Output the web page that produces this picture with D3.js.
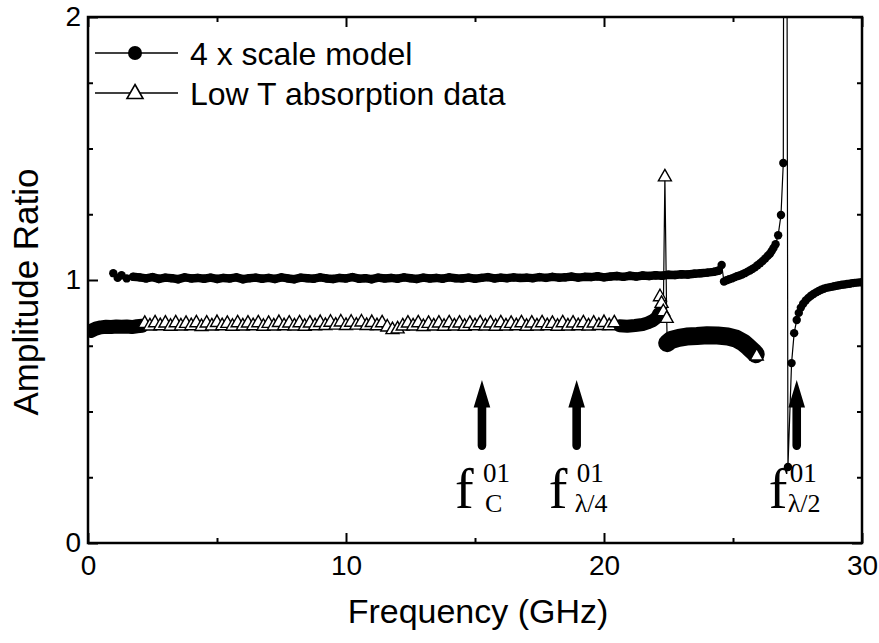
<!DOCTYPE html>
<html><head><meta charset="utf-8">
<script src="https://cdn.jsdelivr.net/npm/d3@7"></script>
<style>body{margin:0;background:#fff}</style>
</head><body><svg id="c" width="879" height="643"></svg>
<script>
// ---------- data ----------
const xMajorTicks = [0, 10, 20, 30];
const xMinorTicks = [5, 15, 25];
const yMajorTicks = [0, 1, 2];
const yMinorTicks = [0.25, 0.5, 0.75, 1.25, 1.5, 1.75];

const seriesNames = ["4 x scale model", "Low T absorption data"];

// 4 x scale model (filled circles)
const modelFreq = [0.98,1.15,1.3,1.5,1.75,
 2,2.25,2.5,2.75,3,3.25,3.5,3.75,4,4.25,
 4.5,4.75,5,5.25,5.5,5.75,6,6.25,6.5,6.75,
 7,7.25,7.5,7.75,8,8.25,8.5,8.75,9,9.25,
 9.5,9.75,10,10.25,10.5,10.75,11,11.25,11.5,11.75,
 12,12.25,12.5,12.75,13,13.25,13.5,13.75,14,14.25,
 14.5,14.75,15,15.25,15.5,15.75,16,16.25,16.5,16.75,
 17,17.25,17.5,17.75,18,18.25,18.5,18.75,19,19.25,
 19.5,19.75,20,20.25,20.5,20.75,21,21.25,21.5,21.75,
 22,22.25,22.5,22.75,23,23.25,23.5,23.75,24,24.25,
 24.45,24.56,
 24.65,24.75,24.85,24.95,25.05,25.15,25.25,25.35,25.45,25.55,25.65,25.75,25.85,25.95,26.05,26.15,26.25,26.35,26.43,26.5,26.57,26.65,26.75,26.86,26.95,
 27.02,27.13,27.27,27.37,
 27.47,27.55,27.63,27.72,27.82,27.92,28.02,28.12,28.22,28.32,28.42,28.52,28.62,28.72,28.82,28.92,29.02,29.12,29.22,29.32,29.42,29.52,29.62,29.72,29.82,29.92,30];
const modelAmp = [1.026,1.008,1.018,1.006,1.012,
 1.010,1.006,1.011,1.004,1.009,1.007,1.003,1.010,1.006,1.008,
 1.005,1.009,1.004,1.008,1.006,1.010,1.003,1.007,1.009,1.005,
 1.008,1.004,1.010,1.006,1.003,1.009,1.007,1.005,1.010,1.006,
 1.004,1.008,1.006,1.011,1.005,1.007,1.003,1.009,1.006,1.008,
 1.005,1.010,1.007,1.004,1.009,1.006,1.008,1.005,1.010,1.007,
 1.006,1.009,1.005,1.008,1.011,1.006,1.009,1.007,1.010,1.008,
 1.009,1.007,1.011,1.008,1.012,1.009,1.010,1.013,1.009,1.012,
 1.011,1.014,1.010,1.013,1.015,1.012,1.016,1.013,1.017,1.015,
 1.018,1.016,1.020,1.019,1.022,1.021,1.024,1.026,1.028,1.031,
 1.036,1.057,
 0.994,0.999,1.003,1.006,1.010,1.014,1.017,1.021,1.026,1.031,1.036,1.042,1.048,1.056,1.064,1.072,1.082,1.092,1.100,1.110,1.122,1.136,1.170,1.247,1.445,
 6.0,0.289,0.684,0.798,
 0.848,0.875,0.895,0.910,0.922,0.932,0.940,0.947,0.953,0.958,0.963,0.967,0.970,0.972,0.974,0.976,0.978,0.980,0.982,0.983,0.985,0.986,0.988,0.989,0.990,0.991,0.992];
// frequency span over which the model was sampled too densely to resolve single symbols
const modelDenseSpan = [1.7, 24.5];

// Low T absorption data
const lowTStartFreq = [0.1,0.3,0.5,0.7,0.9,1.1,1.3,1.5,1.7,1.9,2.1];        // dense, unresolved
const lowTStartAmp  = [0.806,0.815,0.820,0.822,0.821,0.823,0.822,0.823,0.821,0.824,0.826];
const lowTFreq = [2.2,2.4,2.6,2.8,3.0,3.2,3.4,3.6,3.8,4.0,
 4.2,4.4,4.6,4.8,5.0,5.2,5.4,5.6,5.8,6.0,
 6.2,6.4,6.6,6.8,7.0,7.2,7.4,7.6,7.8,8.0,
 8.2,8.4,8.6,8.8,9.0,9.2,9.4,9.6,9.8,10.0,
 10.2,10.4,10.6,10.8,11.0,11.2,11.4,11.6,11.8,12.0,
 12.2,12.4,12.6,12.8,13.0,13.2,13.4,13.6,13.8,14.0,
 14.2,14.4,14.6,14.8,15.0,15.2,15.4,15.6,15.8,16.0,
 16.2,16.4,16.6,16.8,17.0,17.2,17.4,17.6,17.8,18.0,
 18.2,18.4,18.6,18.8,19.0,19.2,19.4,19.6,19.8,20.0,
 20.2,20.4];
const lowTAmp = [0.836,0.826,0.838,0.827,0.837,0.825,0.838,0.826,0.836,0.827,
 0.838,0.824,0.837,0.826,0.839,0.827,0.836,0.825,0.838,0.826,
 0.837,0.827,0.838,0.825,0.836,0.826,0.839,0.827,0.837,0.826,
 0.838,0.825,0.837,0.827,0.839,0.828,0.840,0.829,0.841,0.828,
 0.840,0.829,0.841,0.828,0.839,0.827,0.838,0.822,0.812,0.815,
 0.826,0.837,0.826,0.838,0.824,0.836,0.826,0.837,0.825,0.838,
 0.826,0.837,0.825,0.836,0.827,0.838,0.826,0.837,0.825,0.838,
 0.826,0.836,0.827,0.838,0.825,0.837,0.826,0.838,0.827,0.836,
 0.825,0.838,0.826,0.837,0.827,0.838,0.826,0.837,0.828,0.839,
 0.827,0.838];
const lowTRiseFreq = [20.6,20.9,21.2,21.5,21.7,21.9,22.05,22.12];     // dense, unresolved
const lowTRiseAmp  = [0.826,0.824,0.827,0.831,0.837,0.846,0.858,0.872];
const lowTSpikeFreq = [22.17,22.23,22.30,22.36,22.43];
const lowTSpikeAmp  = [0.937,0.912,0.880,1.393,0.855];
const lowTHumpFreq = [22.45,22.6,22.9,23.2,23.6,24.0,24.4,24.8,25.1,25.4,25.6,25.8,25.88]; // dense, unresolved
const lowTHumpAmp  = [0.760,0.772,0.780,0.785,0.787,0.790,0.789,0.785,0.778,0.762,0.745,0.727,0.718];
const lowTEndFreq = [25.92];
const lowTEndAmp  = [0.712];

// marked characteristic frequencies (arrows)
const arrowFreq = [15.27, 18.94, 27.47];
const arrowSub = ["C", "\u03bb/4", "\u03bb/2"];
const arrowSup = "01";

// ---------- layout ----------
const svg = d3.select("#c");
const L = 88, R = 862, T = 17, B = 543;
const x = d3.scaleLinear().domain([0, 30]).range([L, R]);
const y = d3.scaleLinear().domain([0, 2]).range([B, T]);
const sans = "'Liberation Sans', Arial, Helvetica, sans-serif";
const serif = "'Liberation Serif', 'Times New Roman', serif";

svg.append("rect").attr("width", 879).attr("height", 643).attr("fill", "#fff");

svg.append("defs").append("clipPath").attr("id", "clip")
  .append("rect").attr("x", L).attr("y", T).attr("width", R - L).attr("height", B - T);

const zip = (a, b) => a.map((v, i) => [v, b[i]]);
const model = zip(modelFreq, modelAmp);
const lowTStart = zip(lowTStartFreq, lowTStartAmp);
const lowTMain = zip(lowTFreq, lowTAmp);
const lowTRise = zip(lowTRiseFreq, lowTRiseAmp);
const lowTSpike = zip(lowTSpikeFreq, lowTSpikeAmp);
const lowTHump = zip(lowTHumpFreq, lowTHumpAmp);
const lowTEnd = zip(lowTEndFreq, lowTEndAmp);
const lowTAll = [].concat(lowTStart, lowTMain, lowTRise, lowTSpike, lowTHump, lowTEnd);

const line = d3.line().x(d => x(d[0])).y(d => y(d[1]));
const plot = svg.append("g").attr("clip-path", "url(#clip)");

// Low T: connecting line
plot.append("path").datum(lowTAll).attr("d", line)
  .attr("fill", "none").attr("stroke", "#000").attr("stroke-width", 1.2);
// dense unresolved segments
[[lowTStart, 14], [lowTRise, 13], [lowTHump, 18]].forEach(([seg, w]) => {
  plot.append("path").datum(seg).attr("d", line)
    .attr("fill", "none").attr("stroke", "#000").attr("stroke-width", w)
    .attr("stroke-linejoin", "round").attr("stroke-linecap", "round");
});
// triangles
const tri = "M0,-7.3L6.5,4.2L-6.5,4.2Z";
plot.append("g").selectAll("path").data([].concat(lowTMain, lowTSpike, lowTEnd)).join("path")
  .attr("d", tri).attr("transform", d => `translate(${x(d[0])},${y(d[1])})`)
  .attr("fill", "#fff").attr("stroke", "#000").attr("stroke-width", 1.4);

// Model: line + filled circles
plot.append("path").datum(model).attr("d", line)
  .attr("fill", "none").attr("stroke", "#000").attr("stroke-width", 1.2);
plot.append("path").datum(model.filter(d => d[0] >= modelDenseSpan[0] && d[0] <= modelDenseSpan[1]))
  .attr("d", line).attr("fill", "none").attr("stroke", "#000").attr("stroke-width", 8.5)
  .attr("stroke-linejoin", "round").attr("stroke-linecap", "round");
plot.append("g").selectAll("circle").data(model).join("circle")
  .attr("cx", d => x(d[0])).attr("cy", d => y(d[1])).attr("r", 4.2).attr("fill", "#000");

// Arrows
const tipVal = 0.62, headVal = 0.515, baseVal = 0.354;
arrowFreq.forEach((f, i) => {
  const cx = x(f), yt = y(tipVal), yh = y(headVal), yb = y(baseVal);
  const hw = 8.3, sw = 4.3;
  const p = `M${cx},${yt}L${cx + hw},${yh}L${cx + sw},${yh}L${cx + sw},${yb - sw}` +
    `A${sw},${sw} 0 0 1 ${cx - sw},${yb - sw}L${cx - sw},${yh}L${cx - hw},${yh}Z`;
  svg.append("path").attr("d", p).attr("fill", "#000");
});
// Labels f^{01}_{...}
const fOff = [-27, -28, -28], supOff = [1, 0, -7], subOff = [3, -2, -9];
arrowFreq.forEach((f, i) => {
  const cx = x(f);
  svg.append("text").attr("x", cx + fOff[i]).attr("y", 508).attr("font-family", serif)
    .attr("font-size", 56).text("f");
  svg.append("text").attr("x", cx + supOff[i]).attr("y", 482).attr("font-family", serif)
    .attr("font-size", 27).text(arrowSup);
  svg.append("text").attr("x", cx + subOff[i]).attr("y", 512).attr("font-family", serif)
    .attr("font-size", 26).text(arrowSub[i]);
});

// Axes
const noDomain = g => g.select(".domain").remove();
const styleTicks = (g, w) => g.selectAll(".tick line").attr("stroke", "#000").attr("stroke-width", w);
svg.append("g").attr("transform", `translate(0,${B})`)
  .call(d3.axisBottom(x).tickValues(xMajorTicks).tickSize(-10).tickPadding(12).tickFormat(d3.format("d")))
  .call(noDomain).call(g => styleTicks(g, 2))
  .call(g => g.selectAll("text").attr("font-family", sans).attr("font-size", 28).attr("fill", "#000"));
svg.append("g").attr("transform", `translate(0,${B})`)
  .call(d3.axisBottom(x).tickValues(xMinorTicks).tickSize(-5).tickFormat(""))
  .call(noDomain).call(g => styleTicks(g, 2));
svg.append("g").attr("transform", `translate(0,${T})`)
  .call(d3.axisTop(x).tickValues(xMajorTicks).tickSize(-10).tickFormat(""))
  .call(noDomain).call(g => styleTicks(g, 2));
svg.append("g").attr("transform", `translate(0,${T})`)
  .call(d3.axisTop(x).tickValues(xMinorTicks).tickSize(-5).tickFormat(""))
  .call(noDomain).call(g => styleTicks(g, 2));
svg.append("g").attr("transform", `translate(${L},0)`)
  .call(d3.axisLeft(y).tickValues(yMajorTicks).tickSize(-10).tickPadding(7).tickFormat(d3.format("d")))
  .call(noDomain).call(g => styleTicks(g, 2))
  .call(g => g.selectAll("text").attr("font-family", sans).attr("font-size", 28).attr("fill", "#000"));
svg.append("g").attr("transform", `translate(${L},0)`)
  .call(d3.axisLeft(y).tickValues(yMinorTicks).tickSize(-5).tickFormat(""))
  .call(noDomain).call(g => styleTicks(g, 2));
svg.append("g").attr("transform", `translate(${R},0)`)
  .call(d3.axisRight(y).tickValues(yMajorTicks).tickSize(-10).tickFormat(""))
  .call(noDomain).call(g => styleTicks(g, 2));
svg.append("g").attr("transform", `translate(${R},0)`)
  .call(d3.axisRight(y).tickValues(yMinorTicks).tickSize(-5).tickFormat(""))
  .call(noDomain).call(g => styleTicks(g, 2));

// Frame
svg.append("rect").attr("x", L).attr("y", T).attr("width", R - L).attr("height", B - T)
  .attr("fill", "none").attr("stroke", "#000").attr("stroke-width", 2.5);

// Axis titles
svg.append("text").attr("x", 478).attr("y", 623).attr("text-anchor", "middle")
  .attr("font-family", sans).attr("font-size", 34).text("Frequency (GHz)");
svg.append("text").attr("transform", "translate(38,292) rotate(-90)").attr("text-anchor", "middle")
  .attr("font-family", sans).attr("font-size", 35).text("Amplitude Ratio");

// Legend
const leg = svg.append("g");
[53, 93].forEach((ly, i) => {
  leg.append("line").attr("x1", 95).attr("x2", 178).attr("y1", ly).attr("y2", ly)
    .attr("stroke", "#000").attr("stroke-width", 1.5);
  if (i === 0) leg.append("circle").attr("cx", 135).attr("cy", ly).attr("r", 7).attr("fill", "#000");
  else leg.append("path").attr("d", "M0,-8.5L8,5.5L-8,5.5Z").attr("transform", `translate(135,${ly})`)
    .attr("fill", "#fff").attr("stroke", "#000").attr("stroke-width", 1.6);
  leg.append("text").attr("x", 190).attr("y", ly + 12).attr("font-family", sans)
    .attr("font-size", 32).text(seriesNames[i]);
});
</script></body></html>
